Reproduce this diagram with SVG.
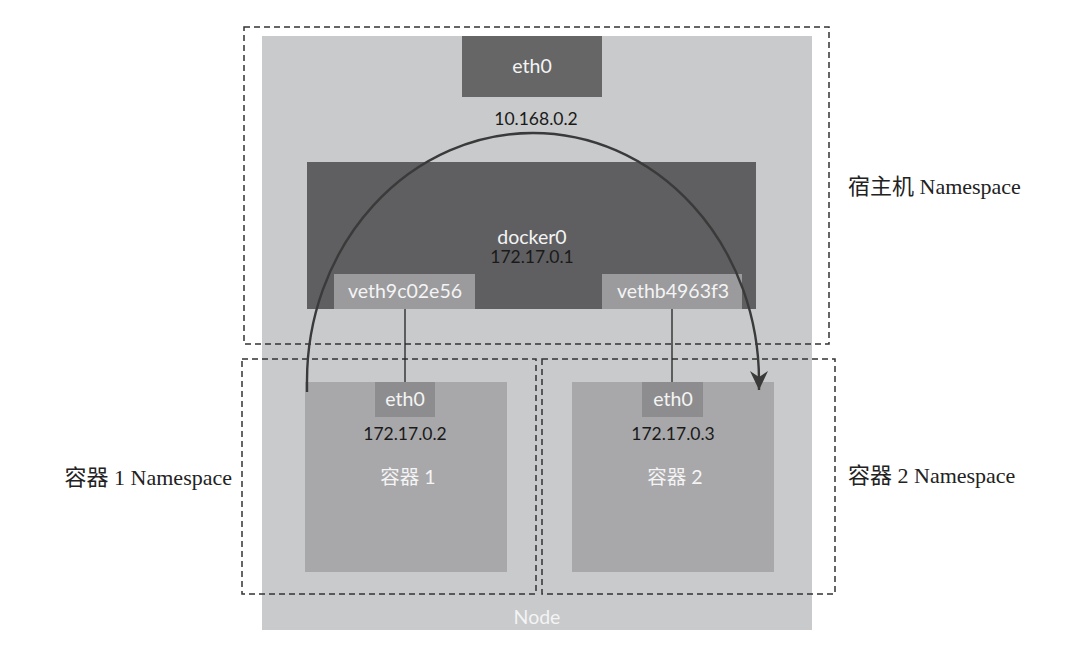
<svg xmlns="http://www.w3.org/2000/svg" width="1068" height="648" viewBox="0 0 1068 648">
<style>
.dash{fill:none;stroke:#333;stroke-width:1.5;stroke-dasharray:6 4}
.wt{font-family:Lato,"Noto Sans CJK SC",sans-serif;fill:#f4f4f4;text-anchor:middle;font-size:19.5px}
.ip{font-family:Lato,sans-serif;fill:#1a1a1a;text-anchor:middle;font-size:17.5px}
.ns{font-family:"Liberation Serif","Noto Sans CJK SC",serif;fill:#222;font-size:22px}
.link{stroke:#222;stroke-width:1.3;fill:none}
</style>
<defs>
<marker id="ah" markerUnits="userSpaceOnUse" viewBox="-20 -10 22 20" refX="0" refY="0" markerWidth="22" markerHeight="20" orient="auto">
<path d="M0,0 L-19,-9 L-13,0 L-19,9 Z" fill="#3a3a3a"/>
</marker>
</defs>
<rect width="1068" height="648" fill="#ffffff"/>
<g id="node">
<rect x="262" y="36" width="550" height="594" fill="#c9cacc"/>
<text class="wt" x="537" y="624">Node</text>
</g>
<g id="host-eth0">
<rect x="462" y="36" width="140" height="61" fill="#666667"/>
<text class="wt" x="532" y="73">eth0</text>
<text class="ip" x="536" y="125">10.168.0.2</text>
</g>
<g id="docker0">
<rect x="307" y="162" width="449" height="147" fill="#5f5f61"/>
<text class="wt" x="532" y="244">docker0</text>
<text class="ip" x="532" y="263">172.17.0.1</text>
</g>
<g id="veth9c02e56">
<rect x="334" y="274" width="141" height="35" fill="#9b9b9d"/>
<text class="wt" x="405" y="298">veth9c02e56</text>
</g>
<g id="vethb4963f3">
<rect x="602" y="274" width="140" height="35" fill="#9b9b9d"/>
<text class="wt" x="673" y="298">vethb4963f3</text>
</g>
<g id="container1">
<rect x="305" y="382" width="202" height="190" fill="#a8a8aa"/>
<rect x="375" y="382" width="60" height="35" fill="#8d8d8f"/>
<text class="wt" x="405" y="406">eth0</text>
<text class="ip" x="405" y="440">172.17.0.2</text>
<text class="wt" x="408" y="484">容器 1</text>
</g>
<g id="container2">
<rect x="572" y="382" width="202" height="190" fill="#a8a8aa"/>
<rect x="642" y="382" width="61" height="35" fill="#8d8d8f"/>
<text class="wt" x="673" y="406">eth0</text>
<text class="ip" x="673" y="440">172.17.0.3</text>
<text class="wt" x="675" y="484">容器 2</text>
</g>
<g id="host-namespace">
<rect class="dash" x="244" y="27" width="585" height="317"/>
<text class="ns" x="848" y="194">宿主机 Namespace</text>
</g>
<g id="container1-namespace">
<rect class="dash" x="242" y="359" width="294" height="235"/>
<text class="ns" x="232" y="485" text-anchor="end">容器 1 Namespace</text>
</g>
<g id="container2-namespace">
<rect class="dash" x="542" y="359" width="293" height="235"/>
<text class="ns" x="848" y="483">容器 2 Namespace</text>
</g>
<g id="connectors">
<line class="link" x1="405" y1="309" x2="405" y2="382"/>
<line class="link" x1="672" y1="309" x2="672" y2="382"/>
<path d="M307,392 L307,381 A226,248 0 0 1 759,381 L759,390" fill="none" stroke="#3a3a3a" stroke-width="2.4" marker-end="url(#ah)"/>
</g>
</svg>
